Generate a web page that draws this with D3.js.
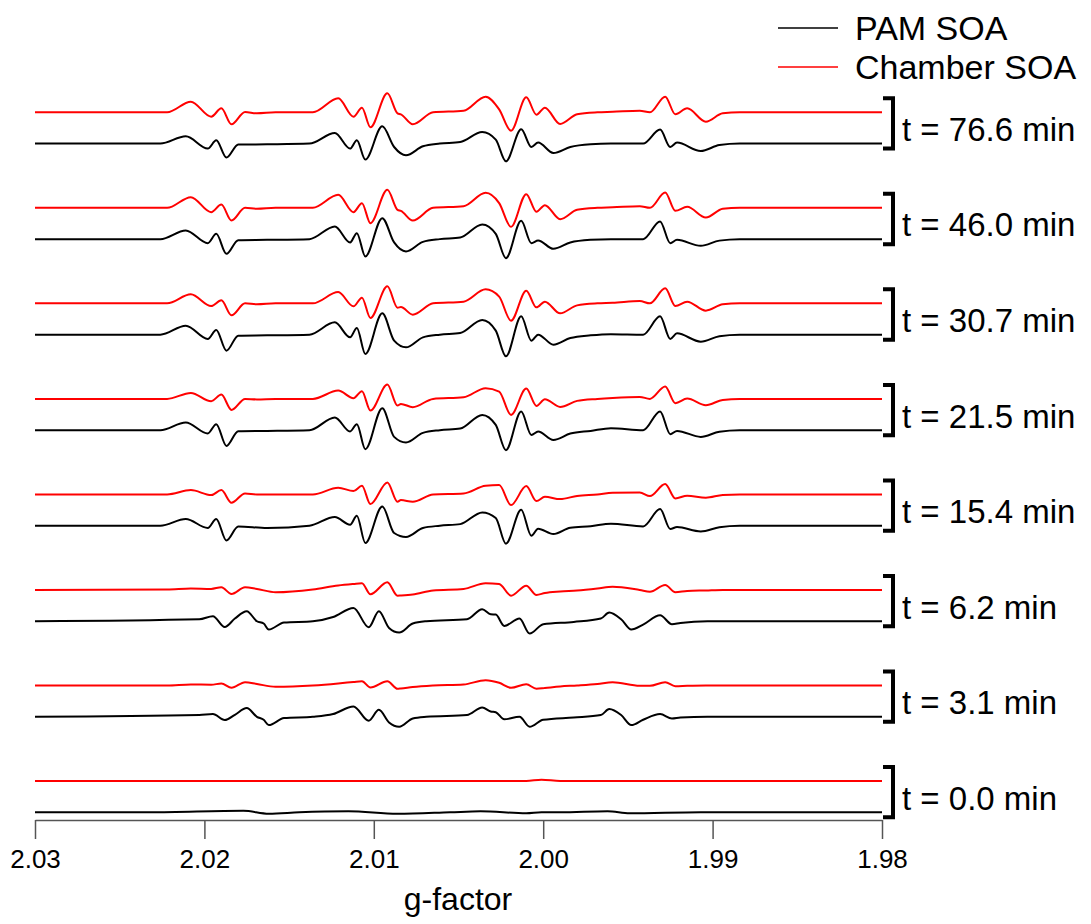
<!DOCTYPE html>
<html>
<head>
<meta charset="utf-8">
<script src="https://cdn.jsdelivr.net/npm/d3@7"></script>
<style>
  html, body { margin: 0; padding: 0; background: #fff; }
  svg { display: block; font-family: "Liberation Sans", Arial, sans-serif; }
</style>
</head>
<body>
<svg id="chart" width="1091" height="924"></svg>
<script>
// ---------------- data ----------------
const gTicks = [2.03, 2.02, 2.01, 2.00, 1.99, 1.98];
const timeLabels = ["t = 76.6 min", "t = 46.0 min", "t = 30.7 min", "t = 21.5 min",
                    "t = 15.4 min", "t = 6.2 min", "t = 3.1 min", "t = 0.0 min"];
const seriesNames = ["PAM SOA", "Chamber SOA"];

// g-factor knots (PAM SOA, later times)
const gPamLate = [2.0300, 2.0226, 2.0211, 2.0198, 2.0193, 2.0187, 2.0180, 2.0163, 2.0138,
  2.0123, 2.0114, 2.0110, 2.0105, 2.0095, 2.0088, 2.0081, 2.0071, 2.0061, 2.0049, 2.0036,
  2.0028, 2.0022, 2.0013, 2.0007, 2.0003, 1.9994, 1.9984, 1.9972, 1.9960, 1.9941, 1.9931,
  1.9925, 1.9921, 1.9907, 1.9896, 1.9884, 1.9800];
// g-factor knots (Chamber SOA)
const gChamber = [2.0300, 2.0222, 2.0208, 2.0196, 2.0190, 2.0184, 2.0176, 2.0169, 2.0158,
  2.0136, 2.0121, 2.0112, 2.0107, 2.0102, 2.0092, 2.0086, 2.0084, 2.0077, 2.0065, 2.0047,
  2.0034, 2.0026, 2.0019, 2.0010, 2.0004, 1.9999, 1.9990, 1.9980, 1.9968, 1.9959, 1.9943,
  1.9937, 1.9928, 1.9922, 1.9915, 1.9904, 1.9894, 1.9884, 1.9800];
// g-factor knots (PAM SOA, early times)
const gPamEarly = [2.0300, 2.0203, 2.0195, 2.0188, 2.0182, 2.0175, 2.0169, 2.0165, 2.0162,
  2.0153, 2.0136, 2.0124, 2.0112, 2.0103, 2.0097, 2.0091, 2.0085, 2.0077, 2.0069, 2.0045,
  2.0036, 2.0031, 2.0028, 2.0023, 2.0014, 2.0008, 2.0000, 1.9982, 1.9966, 1.9961, 1.9954,
  1.9948, 1.9941, 1.9931, 1.9924, 1.9919, 1.9903, 1.9800];
// g-factor knots (t = 0)
const gBlank = [2.0300, 2.0232, 2.0177, 2.0162, 2.0144, 2.0115, 2.0086, 2.0055, 2.0037,
  2.0010, 2.0001, 1.9990, 1.9962, 1.9949, 1.9907, 1.9800];

// EPR signal (a.u.), PAM SOA
const pam766 = [0, 0, 7.3, -5, 3.3, -14, -1, -0.7, 0, 10.6, -5, 3.3, -16, 17.3, -3.4, -11.7, -2.7, 0,
  1.6, 11.6, 4, -17.7, 14.3, -3.4, 1, -9.4, -3.4, -0.7, 0, 0, 14, -3.4, 1, -7.4, -1.5, 0, 0];
const pam460 = [0, 0, 8.7, -4, 5.3, -14.7, -1, -0.7, 0, 12.7, -3.3, 6, -17.3, 21, -3.3, -12.3, -2.7, 0,
  1.6, 14.7, 5.3, -19, 18.3, -4, -1.3, -9.7, -3.4, -0.7, 0, 0, 17.7, -4, -0.7, -6.7, -1.5, 0, 0];
const pam307 = [0, 0, 9, -4.3, 4.7, -16, -1, -0.7, 0, 12.3, -2.7, 6.7, -19.3, 21.3, -6, -12.7, -2.7, 0,
  1.6, 14.7, 4, -21.7, 18.3, -6, 0, -10, -3.4, -0.7, 0.5, 0, 18.3, -4.3, 1.3, -7, -1.5, 0, 0];
const pam215 = [0, 0, 7.7, -3.3, 6, -15.7, -1, -0.7, 0, 12.7, -1.3, 6, -19, 22, -6.7, -12.3, -2.7, 0,
  1.6, 15.3, 5.3, -20, 18.7, -4.7, -1.3, -9.7, -3.4, -0.7, 2, 0, 18.7, -4, -0.7, -6.7, -1.5, 0, 0];
const pam154 = [0, 0, 6.7, -2.3, 6.7, -14.7, -0.7, -2.3, 0, 8.7, 1, 10, -17.3, 19.3, -7.3, -11.3, -2.3, 0,
  1.6, 13.3, 7.7, -18, 16, -10, -3, -8.3, -2, -0.5, 2, -0.7, 16.7, -3.3, -1.3, -5.7, -1.5, 0, 0];
const pam62 = [0, 2, 5, -5.7, 2.7, 10, 0, -2.3, -8.3, -1.3, 0, 4.3, 13.3, -6, 10, -6.7, -11.3, -2.3, 0,
  2, 12, 7, 6.7, -4.7, 2.7, -12.3, -3, -0.7, 2.7, 8.7, 2, -8.3, -3.3, 6, -3, -1.7, 0, 0];
const pam31 = [0, 1.7, 2.7, -3.3, 2, 8.7, 0, -3, -8.3, -1.3, 0, 2.7, 10.3, -4, 7, -5.7, -10, -1.7, 0,
  1.7, 9.3, 5.3, 4.5, -2.5, 0, -10, -3, -0.7, 1.7, 7.7, 1.7, -8.3, -3, 2.7, -1.7, -0.7, 0, 0];
const pam00 = [0, 0, 1.5, -1.5, 0, 1, -1.5, 0, 1, -1, 0, 0, 1, -1, 0, 0];

// EPR signal (a.u.), Chamber SOA
const ch766 = [0, 0, 10.6, -4.4, 4, -12, 0.3, -1, 0, 0, 14, -4.4, 4.6, -15, 19, -1, -2, -12, 0, 1.6,
  15.6, 3, -18.4, 15, -2.4, 4.6, -11.7, -2, 0, 0.5, 1.6, 0, 15.6, -2, 4, -9.4, -1, 0, 0];
const ch460 = [0, 0, 10.7, -4.3, 3.3, -12.7, 0, -1, 0, 0, 13, -4.3, 4.7, -15.3, 18, -2, -3, -12.7, 0, 1.6,
  15, 4.7, -19, 13.7, -4, 2.7, -11.3, -2, 0, 0.5, 1.7, 0, 15.3, -3, 1, -9.7, -1, 0, 0];
const ch307 = [0, 0, 9, -2.7, 3, -12, 0, -1, 0, 0, 11.3, -3, 5.7, -14.7, 17, -4.3, -3.7, -11.3, 0, 1.6,
  14, 6.7, -17.3, 12.7, -4, 1.7, -10, -2, 0, 0.5, 2.3, 0, 15, -2.7, 1.7, -7.3, -1, 0, 0];
const ch215 = [0, 0, 6, -2.3, 4.3, -11, 0, -0.5, 0, 0, 8.3, 0.7, 7.7, -11.7, 14.3, -6.7, -5, -8.3, 0, 1.6,
  10.7, 7.3, -16, 10.3, -7, -0.3, -8, -2, 0, 1, 2, 0, 12.3, -4.3, 0.3, -6.3, -1, 0, 0];
const ch154 = [0, 0, 4.3, -0.7, 4.3, -8.3, 1, 0, 0, 0, 6.7, 3.3, 8.7, -9.7, 12, -7.3, -5.7, -7.3, 0, 1,
  8.7, 9.3, -10.7, 8.3, -6.7, -2.3, -4.7, -1.5, 0, 1.7, 2, -1.7, 10.3, -4, -1.3, -3.3, -0.5, 0, 0];
const ch62 = [0, 0.5, 1.5, 1, 2.7, -4, 2.7, 1, -2.3, 0.5, 4.5, 6, 6.7, -4.3, 7.7, -5.7, -5.5, -4.5, -0.5, 1,
  6.7, 6, -5.7, 4.3, -5, -3, -1.5, -0.5, 1.5, 3.3, 0, -1.7, 5, -2.3, -1, -0.5, 0, 0, 0];
const ch31 = [0, 0, 1, 0.7, 2, -2.3, 3.3, 1.5, -1.3, 0, 2, 3.5, 4.3, -2, 4.3, -3.3, -3, -1.5, 0, 1,
  5.3, 2.7, -2.3, 1.3, -3.3, -2.5, -1, 0, 1.5, 3.3, -0.3, -0.3, 3.3, -0.7, -0.3, 0, 0, 0, 0];
const ch00 = [0, 0, 0, 0, 0, 0, 0, 0, 0, 0, 1.3, 0, 0, 0, 0, 0];

const pamSeries = [[gPamLate, pam766], [gPamLate, pam460], [gPamLate, pam307], [gPamLate, pam215],
                   [gPamLate, pam154], [gPamEarly, pam62], [gPamEarly, pam31], [gBlank, pam00]];
const chamberSeries = [[gChamber, ch766], [gChamber, ch460], [gChamber, ch307], [gChamber, ch215],
                       [gChamber, ch154], [gChamber, ch62], [gChamber, ch31], [gBlank, ch00]];

// ---------------- chart ----------------
const svg = d3.select("#chart");
const font = "'Liberation Sans', Arial, sans-serif";

const x = d3.scaleLinear().domain([2.03, 1.98]).range([35, 882]);
const rowY = d3.scalePoint().domain(timeLabels).range([112.3, 781]);
const pairGap = 31.3;
const yI = d3.scaleLinear().domain([-25, 25]).range([25, -25]);

const colors = { pam: "#000000", chamber: "#ff0000" };

const toPts = ([g, v]) => g.map((gi, i) => [gi, v[i]]);

timeLabels.forEach((lab, i) => {
  const base = rowY(lab);
  const line = d3.line()
    .x(d => x(d[0]))
    .curve(d3.curveMonotoneX);
  // chamber (red)
  svg.append("path")
    .datum(toPts(chamberSeries[i]))
    .attr("fill", "none")
    .attr("stroke", colors.chamber)
    .attr("stroke-width", 2)
    .attr("stroke-linejoin", "round")
    .attr("d", line.y(d => base + yI(d[1])));
  // PAM (black)
  const bBase = base + pairGap;
  svg.append("path")
    .datum(toPts(pamSeries[i]))
    .attr("fill", "none")
    .attr("stroke", colors.pam)
    .attr("stroke-width", 2)
    .attr("stroke-linejoin", "round")
    .attr("d", line.y(d => bBase + yI(d[1])));

  // bracket
  const top = base - 14, bot = bBase + 5;
  svg.append("path")
    .attr("d", `M883,${top}H893V${bot}H883`)
    .attr("fill", "none")
    .attr("stroke", "#000")
    .attr("stroke-width", 4);
  svg.append("text")
    .attr("x", 902)
    .attr("y", (top + bot) / 2 + 6)
    .attr("dominant-baseline", "central")
    .attr("font-size", 33)
    .attr("font-family", font)
    .attr("fill", "#000")
    .text(lab);
});

// axis
const axis = d3.axisBottom(x)
  .tickValues(gTicks)
  .tickFormat(d3.format(".2f"))
  .tickSize(19)
  .tickSizeOuter(0)
  .tickPadding(11);
const ax = svg.append("g").attr("transform", "translate(0,820)").call(axis);
ax.select(".domain").attr("stroke", "#555").attr("stroke-width", 1.5);
ax.selectAll(".tick line").attr("stroke", "#555").attr("stroke-width", 1.5);
ax.selectAll(".tick text")
  .attr("font-size", 26)
  .attr("font-family", font)
  .attr("fill", "#000");

svg.append("text")
  .attr("x", 458)
  .attr("y", 910)
  .attr("text-anchor", "middle")
  .attr("font-size", 32)
  .attr("font-family", font)
  .attr("fill", "#000")
  .text("g-factor");

// legend
const legend = svg.append("g");
[[seriesNames[0], colors.pam, 28], [seriesNames[1], colors.chamber, 67]].forEach(([name, c, ly]) => {
  legend.append("line")
    .attr("x1", 778).attr("x2", 838)
    .attr("y1", ly).attr("y2", ly)
    .attr("stroke", c).attr("stroke-width", 1.5);
  legend.append("text")
    .attr("x", 855)
    .attr("y", ly)
    .attr("dominant-baseline", "central")
    .attr("font-size", 34)
    .attr("font-family", font)
    .attr("fill", "#000")
    .text(name);
});
</script>
</body>
</html>
